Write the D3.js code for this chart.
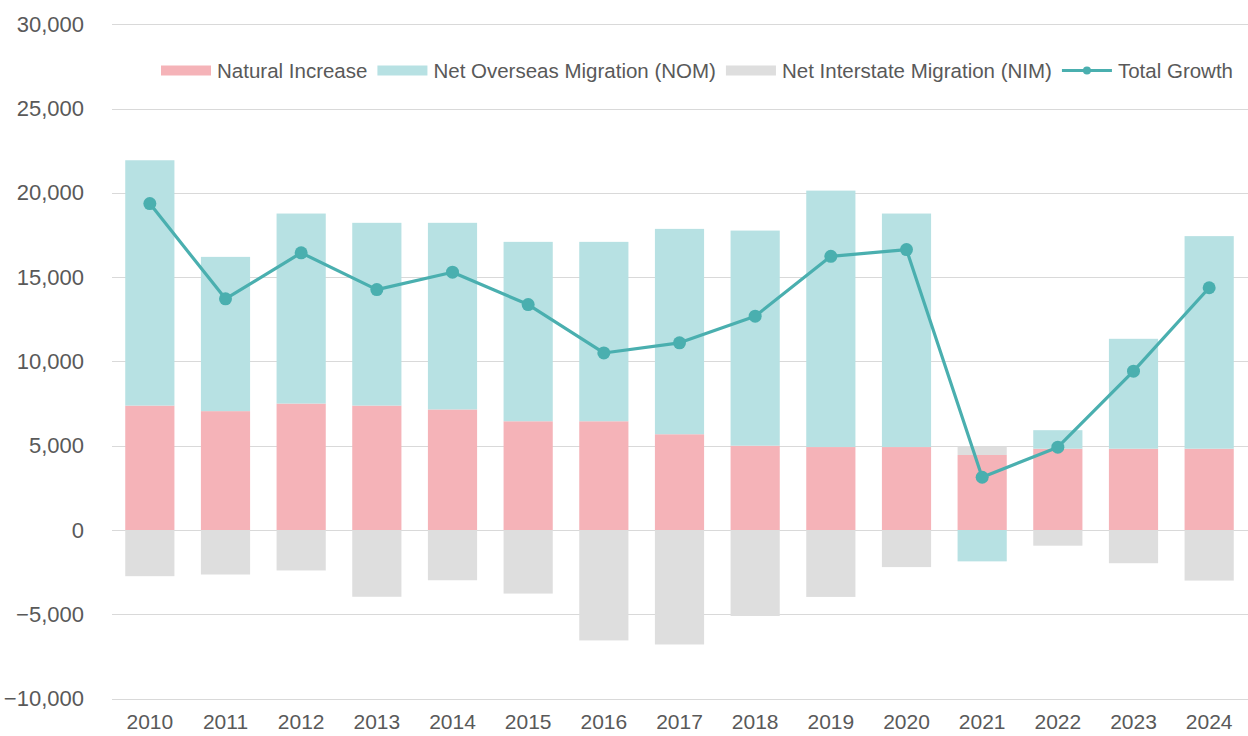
<!DOCTYPE html>
<html>
<head>
<meta charset="utf-8">
<script src="https://cdn.jsdelivr.net/npm/d3@7"></script>
<style>
  html, body { margin: 0; padding: 0; background: #ffffff; }
  svg { display: block; font-family: "Liberation Sans", Arial, sans-serif; }
</style>
</head>
<body>
<svg id="chart" width="1248" height="736"></svg>
<script>
// Components of population growth by year
const years = ["2010","2011","2012","2013","2014","2015","2016","2017","2018","2019","2020","2021","2022","2023","2024"];
const naturalIncrease = [7380, 7050, 7500, 7380, 7150, 6450, 6450, 5680, 5000, 4920, 4920, 4450, 4820, 4820, 4820];
const netOverseasMigration = [14550, 9150, 11270, 10840, 11070, 10640, 10640, 12180, 12760, 15210, 13850, -1860, 1100, 6520, 12610];
const netInterstateMigration = [-2740, -2640, -2400, -3960, -2980, -3770, -6550, -6790, -5100, -3970, -2200, 500, -930, -1970, -3000];
const totalGrowth = [19360, 13710, 16440, 14260, 15290, 13370, 10500, 11100, 12680, 16230, 16630, 3130, 4910, 9420, 14370];
const yTicks = [-10000, -5000, 0, 5000, 10000, 15000, 20000, 25000, 30000];

const seriesKeys = ["ni", "nom", "nim"];
const seriesNames = {
  ni: "Natural Increase",
  nom: "Net Overseas Migration (NOM)",
  nim: "Net Interstate Migration (NIM)",
  total: "Total Growth"
};
const colors = { ni: "#F5B3B8", nom: "#B7E1E3", nim: "#DEDEDE", total: "#4AAFAF" };
const textColor = "#595959";

const rows = years.map((y, i) => ({
  year: y,
  ni: naturalIncrease[i],
  nom: netOverseasMigration[i],
  nim: netInterstateMigration[i],
  total: totalGrowth[i]
}));

const svg = d3.select("#chart");

const x = d3.scaleBand().domain(years).range([112, 1247]).paddingInner(0.35).paddingOuter(0.175);
const y = d3.scaleLinear().domain([-10000, 30000]).range([698.6, 24.2]);

// Gridlines
svg.append("g")
  .selectAll("line")
  .data(yTicks)
  .join("line")
  .attr("x1", 112).attr("x2", 1248)
  .attr("y1", d => Math.round(y(d)) + 0.5)
  .attr("y2", d => Math.round(y(d)) + 0.5)
  .attr("stroke", "#D9D9D9")
  .attr("stroke-width", 1.2);

// Y axis labels
const yAxis = d3.axisLeft(y).tickValues(yTicks).tickSize(0).tickPadding(0)
  .tickFormat(d3.format(",.0f"));
svg.append("g")
  .attr("transform", "translate(84,0)")
  .call(yAxis)
  .call(g => g.select(".domain").remove())
  .call(g => g.selectAll("text")
    .attr("fill", textColor)
    .attr("font-size", 22)
    .attr("font-family", "Liberation Sans, Arial, sans-serif"));

// X axis labels
const xAxis = d3.axisBottom(x).tickSize(0).tickPadding(0);
svg.append("g")
  .attr("transform", "translate(0,714)")
  .call(xAxis)
  .call(g => g.select(".domain").remove())
  .call(g => g.selectAll("text")
    .attr("fill", textColor)
    .attr("font-size", 21)
    .attr("font-family", "Liberation Sans, Arial, sans-serif"));

// Stacked bars (positive values stack up, negatives stack down)
const stack = d3.stack().keys(seriesKeys).offset(d3.stackOffsetDiverging);
const stacked = stack(rows);

svg.append("g")
  .selectAll("g")
  .data(stacked)
  .join("g")
  .attr("fill", s => colors[s.key])
  .selectAll("rect")
  .data(s => s)
  .join("rect")
  .attr("x", d => x(d.data.year))
  .attr("width", x.bandwidth())
  .attr("y", d => y(Math.max(d[0], d[1])))
  .attr("height", d => Math.abs(y(d[0]) - y(d[1])));

// Total growth line with markers
const cx = d => x(d.year) + x.bandwidth() / 2;
svg.append("path")
  .datum(rows)
  .attr("fill", "none")
  .attr("stroke", colors.total)
  .attr("stroke-width", 3.2)
  .attr("stroke-linejoin", "round")
  .attr("d", d3.line().x(cx).y(d => y(d.total)));

svg.append("g")
  .selectAll("circle")
  .data(rows)
  .join("circle")
  .attr("cx", cx)
  .attr("cy", d => y(d.total))
  .attr("r", 6.5)
  .attr("fill", colors.total);

// Legend
const legend = svg.append("g").attr("transform", "translate(0,70.5)");
let lx = 161;
["ni", "nom", "nim", "total"].forEach(k => {
  const item = legend.append("g");
  if (k === "total") {
    item.append("line").attr("x1", lx).attr("x2", lx + 50).attr("y1", 0).attr("y2", 0)
      .attr("stroke", colors.total).attr("stroke-width", 3);
    item.append("circle").attr("cx", lx + 25).attr("cy", 0).attr("r", 4).attr("fill", colors.total);
  } else {
    item.append("rect").attr("x", lx).attr("y", -5).attr("width", 50).attr("height", 10).attr("fill", colors[k]);
  }
  const t = item.append("text")
    .attr("x", lx + 56).attr("y", 0).attr("dy", "0.35em")
    .attr("fill", textColor).attr("font-size", 20.5)
    .text(seriesNames[k]);
  lx += 56 + t.node().getComputedTextLength() + 10;
});
</script>
</body>
</html>
